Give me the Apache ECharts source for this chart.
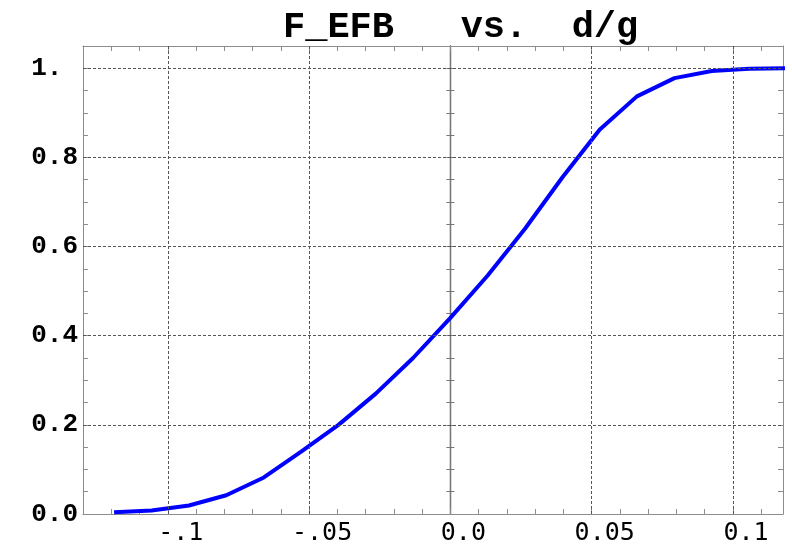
<!DOCTYPE html>
<html>
<head>
<meta charset="utf-8">
<script src="https://cdn.jsdelivr.net/npm/echarts@6/dist/echarts.min.js"></script>
<style>html,body{margin:0;padding:0;background:#fff}#c{width:792px;height:546px}</style>
</head>
<body>
<div id="c"></div>
<script>
// ---- data ----
const dg = [-0.119, -0.1057, -0.0925, -0.0793, -0.066, -0.0528, -0.0396, -0.0264, -0.0132, 0,
            0.0132, 0.0264, 0.0396, 0.0528, 0.066, 0.0793, 0.0925, 0.1057, 0.119];
const fEFB = [0.004, 0.008, 0.019, 0.042, 0.082, 0.14, 0.20, 0.27, 0.35, 0.44,
              0.535, 0.64, 0.755, 0.862, 0.937, 0.978, 0.994, 0.999, 1.0];
const xTickValues = [-0.1, -0.05, 0, 0.05, 0.1];
const xTickLabels = ['-.1', '-.05', '0.0', '0.05', '0.1'];
const yTickValues = [0, 0.2, 0.4, 0.6, 0.8, 1.0];
const yTickLabels = ['0.0', '0.2', '0.4', '0.6', '0.8', '1. '];
const xMinorTicks = [-0.12, -0.11, -0.1, -0.09, -0.08, -0.07, -0.06, -0.05, -0.04, -0.03, -0.02, -0.01,
                     0, 0.01, 0.02, 0.03, 0.04, 0.05, 0.06, 0.07, 0.08, 0.09, 0.1, 0.11];
const yMinorTicks = [0.05, 0.1, 0.15, 0.2, 0.25, 0.3, 0.35, 0.4, 0.45, 0.5, 0.55, 0.6, 0.65, 0.7,
                     0.75, 0.8, 0.85, 0.9, 0.95, 1.0];
const titleText = 'F_EFB   vs.  d/g';

const X_MIN = -0.13, X_MAX = 0.1177, Y_MIN = 0, Y_MAX = 1.05;
const frameColor = '#8c8c8c';
const gridColor = '#555';

function lblX(v) { const i = xTickValues.findIndex(t => Math.abs(t - v) < 1e-9); return i >= 0 ? xTickLabels[i] : ''; }
function lblY(v) { const i = yTickValues.findIndex(t => Math.abs(t - v) < 1e-9); return i >= 0 ? yTickLabels[i] : ''; }

const baseX = (pos, showLabel) => ({
  type: 'value', position: pos, min: X_MIN, max: X_MAX,
  axisLine: { show: true, onZero: false, lineStyle: { color: frameColor, width: 1 } },
  axisTick: { show: true, inside: true, length: 5, customValues: xMinorTicks, lineStyle: { color: frameColor } },
  axisLabel: showLabel ? {
    show: true, customValues: xTickValues, formatter: lblX, margin: 7,
    fontFamily: 'DejaVu Sans Mono', fontSize: 25, color: '#000', padding: [0, 0, 0, 26]
  } : { show: false },
  splitLine: { show: false }
});
const baseY = (pos, showLabel) => ({
  type: 'value', position: pos, min: Y_MIN, max: Y_MAX,
  axisLine: { show: true, onZero: false, lineStyle: { color: frameColor, width: 1 } },
  axisTick: { show: true, inside: true, length: 5, customValues: yMinorTicks, lineStyle: { color: frameColor } },
  axisLabel: showLabel ? {
    show: true, customValues: yTickValues, formatter: lblY, margin: 5,
    fontFamily: 'Liberation Mono', fontWeight: 'bold', fontSize: 26, color: '#000'
  } : { show: false },
  splitLine: { show: false }
});
const zeroY = (inside) => ({
  type: 'value', position: 'left', min: Y_MIN, max: Y_MAX,
  axisLine: { show: true, onZero: true, onZeroAxisIndex: 0, lineStyle: { color: '#777', width: 1.3 } },
  axisTick: { show: true, inside: inside, length: 4, customValues: yMinorTicks, lineStyle: { color: '#777' } },
  axisLabel: { show: false },
  splitLine: { show: false }
});

const chart = echarts.init(document.getElementById('c'), null, { renderer: 'canvas' });
chart.setOption({
  animation: false,
  backgroundColor: '#fff',
  title: {
    text: titleText, left: 278, top: 4,
    textStyle: { fontFamily: 'Liberation Mono', fontWeight: 'bold', fontSize: 37, color: '#000' }
  },
  grid: { left: 83, right: 9, top: 46, bottom: 26, containLabel: false },
  xAxis: [baseX('bottom', true), baseX('top', false)],
  yAxis: [baseY('left', true), baseY('right', false), zeroY(true), zeroY(false)],
  series: [{
    type: 'line', xAxisIndex: 0, yAxisIndex: 0,
    data: dg.map((x, i) => [x, fEFB[i]]),
    showSymbol: false, smooth: false, clip: true,
    lineStyle: { color: '#0000ff', width: 4 },
    markLine: {
      silent: true, symbol: 'none', label: { show: false },
      lineStyle: { color: gridColor, type: [3, 2], width: 1 },
      data: [
        ...xTickValues.filter(v => v !== 0).map(v => ({ xAxis: v })),
        ...yTickValues.filter(v => v !== 0).map(v => ({ yAxis: v }))
      ]
    }
  }]
});
</script>
</body>
</html>
